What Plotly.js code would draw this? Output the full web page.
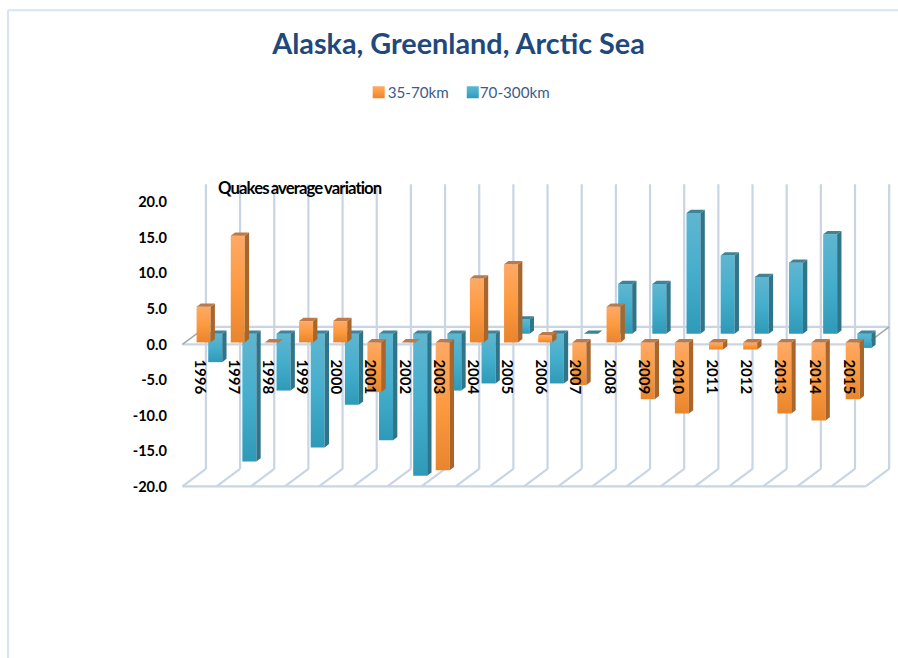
<!DOCTYPE html>
<html>
<head>
<meta charset="utf-8">
<script src="https://cdn.plot.ly/plotly-3.0.1.min.js"></script>
<style>
  html, body { margin: 0; padding: 0; background: #fff; }
  .annotation-text { letter-spacing: -0.9px; word-spacing: -1px; }
</style>
</head>
<body>
<div id="chart" style="width:898px;height:658px"></div>
<script>
// Yearly variation of quake averages by depth band
const years = [1996,1997,1998,1999,2000,2001,2002,2003,2004,2005,2006,2007,2008,2009,2010,2011,2012,2013,2014,2015];
const shallow = [5,15,0,3,3,-7,0,-18,9,11,1,-6,5,-8,-10,-1,-1,-10,-11,-8];   // 35-70km
const deep = [-4,-18,-8,-16,-10,-15,-20,-8,-7,2,-7,0,7,7,17,11,8,10,14,-2];  // 70-300km
const yTicks = [20,15,10,5,0,-5,-10,-15,-20];

// Pseudo-3D box geometry, in axis units
const W = 898, H = 658;
const plot = { l: 178.9, r: 892.6, t: 180.7, b: 489.55 };
const xRange = [1995.4, 2016.3], yRange = [-20.5, 23];
const backDx = 0.688, backDy = 2.46;     // wall depth
const barDx = 0.126, barDy = 0.46;       // bar depth
const barW = 0.41;
const floorV = -20, wallTop = 22.535, firstX = 1995.5;

const palette = {
  shallow: { face: '#fd9a40', side: '#a8662c', top: '#bd7a48', stops: ['#fea965', '#fd9a40', '#e8852d'] },
  deep:    { face: '#45aecd', side: '#2f7489', top: '#3f8398', stops: ['#5fb6d0', '#45aecd', '#2f99b8'] }
};

function barTrace(name, values, xOff, baseV, col, z) {
  return {
    type: 'bar', name, x: years.map(y => y + xOff), y: values,
    base: values.map(() => baseV), width: barW,
    marker: { color: col.face, line: { width: 0 } },
    zorder: z, hoverinfo: 'skip'
  };
}

// Side and top faces share the bar's own values, one polygon per bar
function faceTrace(values, xOff, baseV, color, kind, z) {
  const xs = [], ys = [];
  values.forEach((v, i) => {
    const x1 = years[i] + xOff + barW / 2, x0 = x1 - barW;
    const hi = baseV + Math.max(v, 0), lo = baseV + Math.min(v, 0);
    const px = kind === 'side'
      ? [[x1, hi], [x1 + barDx, hi + barDy], [x1 + barDx, lo + barDy], [x1, lo]]
      : [[x0, hi], [x0 + barDx, hi + barDy], [x1 + barDx, hi + barDy], [x1, hi]];
    px.concat([px[0]]).forEach(p => { xs.push(p[0]); ys.push(p[1]); });
    xs.push(null); ys.push(null);
  });
  return {
    type: 'scatter', mode: 'lines', x: xs, y: ys, fill: 'toself', fillcolor: color,
    line: { width: 0, color: color }, showlegend: false, hoverinfo: 'skip', zorder: z
  };
}

const offShallow = 0.12, offDeep = 0.46, baseShallow = 0.28, baseDeep = 1.5;
const traces = [
  barTrace('35-70km', shallow, offShallow, baseShallow, palette.shallow, 3),
  barTrace('70-300km', deep, offDeep, baseDeep, palette.deep, 1),
  faceTrace(deep, offDeep, baseDeep, palette.deep.side, 'side', 2),
  faceTrace(deep, offDeep, baseDeep, palette.deep.top, 'top', 2),
  faceTrace(shallow, offShallow, baseShallow, palette.shallow.side, 'side', 4),
  faceTrace(shallow, offShallow, baseShallow, palette.shallow.top, 'top', 4)
];

// Walls, floor and the zero plane
const gridColor = '#c9d5e4';
const line = (x0, y0, x1, y1, color, width) => ({
  type: 'line', xref: 'x', yref: 'y', x0, y0, x1, y1, layer: 'below',
  line: { color: color || gridColor, width: width || 2.2 }
});
const shapes = [];
for (let i = 0; i <= 20; i++) {
  const fx = firstX + i, bx = fx + backDx;
  shapes.push(line(bx, floorV + backDy, bx, wallTop));
  shapes.push(line(fx, floorV, bx, floorV + backDy));
}
shapes.push(line(firstX, floorV, firstX + 20, floorV));
shapes.push(line(firstX + backDx, backDy, firstX + 20 + backDx, backDy));
shapes.push(line(firstX, 0, firstX + 20, 0));
shapes.push(line(firstX, 0, firstX + backDx, backDy, '#a6a6a6', 1.5));
shapes.push(line(firstX + 20, 0, firstX + 20 + backDx, backDy, '#a6a6a6', 1.5));

// Page frame along the top and left edges
const paperX = px => (px - plot.l) / (plot.r - plot.l);
const paperY = py => (plot.b - py) / (plot.b - plot.t);
const frame = (x0, y0, x1, y1) => ({
  type: 'line', xref: 'paper', yref: 'paper',
  x0: paperX(x0), y0: paperY(y0), x1: paperX(x1), y1: paperY(y1),
  line: { color: '#d6e4f5', width: 2 }
});
shapes.push(frame(8, 10, 898, 10), frame(8, 10, 8, 658));

const FONT = 'Lato, "Open Sans", sans-serif';
const layout = {
  width: W, height: H,
  margin: { l: plot.l, r: W - plot.r, t: plot.t, b: H - plot.b, pad: 0 },
  paper_bgcolor: '#fff', plot_bgcolor: 'rgba(0,0,0,0)',
  barmode: 'overlay', showlegend: true, shapes,
  title: {
    text: '<b>Alaska, Greenland, Arctic Sea</b>',
    x: 458.5 / W, xref: 'container', xanchor: 'center',
    y: 1 - 44 / H, yref: 'container', yanchor: 'middle',
    font: { family: FONT, size: 28.8, color: '#1f497d' }
  },
  legend: {
    orientation: 'h', x: paperX(358.5), xanchor: 'left', y: paperY(92), yanchor: 'middle',
    font: { family: FONT, size: 15.2, color: '#3b5c8c' }, bgcolor: 'rgba(0,0,0,0)'
  },
  xaxis: {
    range: xRange, anchor: 'free', position: paperY(358), tickmode: 'array',
    tickvals: years, ticktext: years.map(String), tickangle: 90, ticklen: 0,
    showgrid: false, zeroline: false, showline: false,
    tickfont: { family: FONT, size: 15, color: '#000', weight: 700 }
  },
  yaxis: {
    range: yRange, tickmode: 'array', tickvals: yTicks, ticktext: yTicks.map(v => v.toFixed(1)),
    ticklen: 0, ticklabelstandoff: 11, showgrid: false, zeroline: false, showline: false,
    tickfont: { family: FONT, size: 14.6, color: '#000', weight: 700 }
  },
  annotations: [{
    text: '<b>Quakes average variation</b>', xref: 'paper', yref: 'paper',
    x: paperX(215.5), xanchor: 'left', y: paperY(188), yanchor: 'middle', showarrow: false,
    font: { family: FONT, size: 16.7, color: '#000' }
  }]
};

function finishDrawing(gd) {
  // Vertical shading on bar faces and legend swatches
  const NS = 'http://www.w3.org/2000/svg';
  const svg = gd.querySelector('.main-svg');
  const defs = svg.querySelector('defs') || svg.appendChild(document.createElementNS(NS, 'defs'));
  const ids = {};
  Object.keys(palette).forEach(key => {
    const g = document.createElementNS(NS, 'linearGradient');
    g.id = 'shade-' + key;
    g.setAttribute('x1', '0'); g.setAttribute('y1', '0'); g.setAttribute('x2', '0'); g.setAttribute('y2', '1');
    palette[key].stops.forEach((c, i) => {
      const s = document.createElementNS(NS, 'stop');
      s.setAttribute('offset', i / 2);
      s.setAttribute('stop-color', c);
      g.appendChild(s);
    });
    defs.appendChild(g);
    const probe = document.createElement('span');
    probe.style.color = palette[key].face;
    ids[probe.style.color] = g.id;
  });
  gd.querySelectorAll('.bars .point path, .legendpoints path').forEach(p => {
    const id = ids[p.style.fill];
    if (id) p.style.fill = 'url(#' + id + ')';
  });

  // Year labels sit above the bars
  const labels = gd.querySelector('.xaxislayer-above');
  if (labels) labels.closest('.cartesianlayer').appendChild(labels);

  // Tighten the legend: labels against swatches, entries closer together
  gd.querySelectorAll('.legend .legendtext').forEach(t => {
    t.setAttribute('x', parseFloat(t.getAttribute('x')) - 11);
  });
  const entries = gd.querySelectorAll('.legend .traces');
  if (entries[1]) {
    const m = /translate\(\s*([-\d.]+)[ ,]+([-\d.]+)\s*\)/.exec(entries[1].getAttribute('transform'));
    if (m) entries[1].setAttribute('transform', 'translate(' + (parseFloat(m[1]) - 12) + ',' + m[2] + ')');
  }
  gd.querySelectorAll('.legend .traces').forEach((e, i) => {
    if (i === 1) {
      const t = e.querySelector('.legendtext');
      t.setAttribute('x', parseFloat(t.getAttribute('x')) - 2);
    }
  });
}

const gd = document.getElementById('chart');
Plotly.newPlot(gd, traces, layout, { displayModeBar: false, staticPlot: true }).then(() => finishDrawing(gd));
</script>
</body>
</html>
